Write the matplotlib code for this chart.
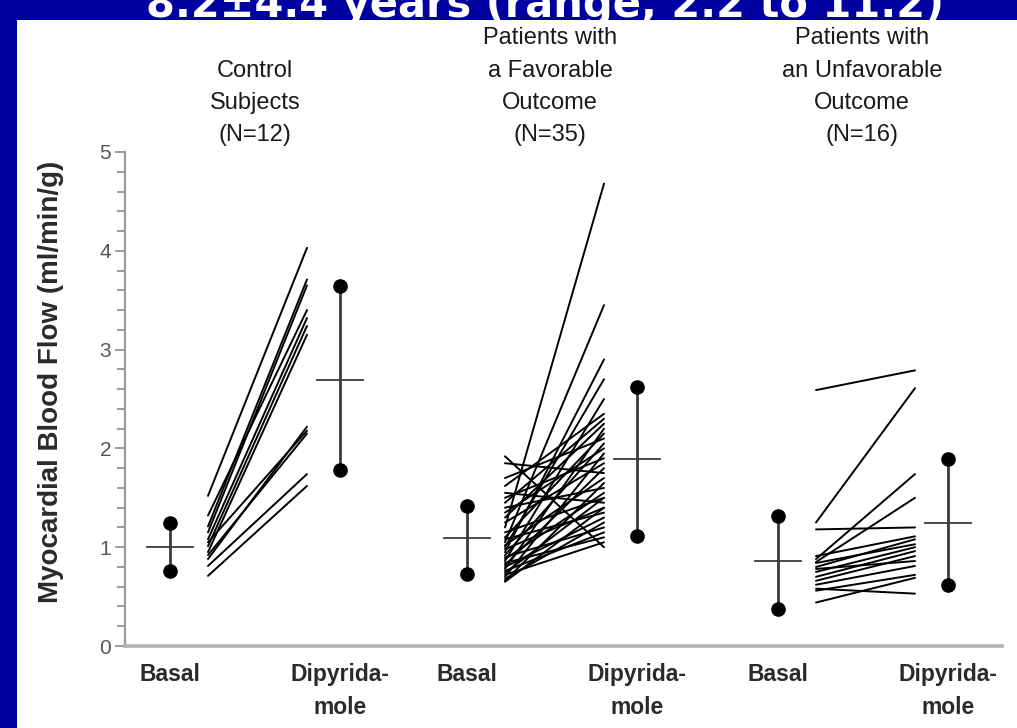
import matplotlib
matplotlib.use("Agg")
import matplotlib.pyplot as plt
from matplotlib.patches import Rectangle
import numpy as np

plt.rcParams['font.family'] = ['Liberation Sans', 'DejaVu Sans']

# ---------------- data ----------------
groups = ["Control\nSubjects\n(N=12)",
          "Patients with\na Favorable\nOutcome\n(N=35)",
          "Patients with\nan Unfavorable\nOutcome\n(N=16)"]
conditions = ["Basal", "Dipyrida-\nmole"]

control_basal = [1.52, 1.21, 1.15, 1.32, 1.08, 1.01, 0.95, 0.88, 1.05, 0.92, 0.81, 0.71]
control_dip   = [4.03, 3.71, 3.65, 3.40, 3.32, 3.24, 3.15, 2.22, 2.18, 2.15, 1.74, 1.62]

fav_basal = [1.20, 1.05, 0.95, 1.00, 0.86, 1.62, 1.45, 1.30, 0.78, 1.10, 1.70, 0.92,
             1.35, 0.70, 1.50, 1.25, 0.82, 1.85, 1.02, 0.66, 1.40, 0.88, 1.15, 0.74,
             1.55, 0.98, 0.65, 1.08, 0.80, 0.68, 0.90, 0.76, 0.84, 0.72, 1.92]
fav_dip   = [4.68, 3.45, 2.90, 2.70, 2.50, 2.35, 2.30, 2.25, 2.20, 2.15, 2.10, 2.05,
             2.00, 1.95, 1.90, 1.85, 1.80, 1.75, 1.70, 1.65, 1.60, 1.55, 1.50, 1.50,
             1.45, 1.40, 1.40, 1.35, 1.30, 1.25, 1.20, 1.15, 1.10, 1.05, 1.00]

unfav_basal = [2.59, 1.25, 1.18, 0.88, 0.85, 0.91, 0.80, 0.84, 0.75, 0.70, 0.66, 0.78,
               0.62, 0.56, 0.58, 0.44]
unfav_dip   = [2.79, 2.61, 1.20, 1.74, 1.50, 1.11, 1.08, 1.03, 1.00, 0.96, 0.91, 0.86,
               0.81, 0.72, 0.53, 0.69]

# summary: mean, lower, upper (basal then dipyridamole) per group
basal_mean  = [1.00, 1.09, 0.86]
basal_low   = [0.76, 0.73, 0.37]
basal_high  = [1.24, 1.42, 1.32]
dip_mean    = [2.69, 1.89, 1.24]
dip_low     = [1.78, 1.11, 0.62]
dip_high    = [3.64, 2.62, 1.89]

pairs = [(control_basal, control_dip), (fav_basal, fav_dip), (unfav_basal, unfav_dip)]

# ---------------- layout ----------------
W, H = 1017, 728
fig = plt.figure(figsize=(W / 100, H / 100), dpi=100)
fig.patch.set_facecolor('#0000A0')

# cut-off heading on the blue band
fig.text(545 / W, 1 - 17 / H, "8.2±4.4 years (range, 2.2 to 11.2)", color='white',
         fontsize=30, fontweight='bold', ha='center', va='baseline',
         family=['DejaVu Sans'], zorder=-3)
fig.patches.append(Rectangle((17 / W, 0), 1 - 17 / W, 1 - 20 / H, transform=fig.transFigure,
                             facecolor='white', edgecolor='none', zorder=-1))

ax_left, ax_right = 125, 1002
ax_top, ax_bottom = 152, 646
ax = fig.add_axes([ax_left / W, 1 - ax_bottom / H, (ax_right - ax_left) / W,
                   (ax_bottom - ax_top) / H])
ax.set_zorder(1)
ax.patch.set_alpha(0)
ax.set_xlim(ax_left / 100, ax_right / 100)
ax.set_ylim(0, 5)

base = [1.70, 4.67, 7.78]
off_start, off_end, off_dip, half = 0.38, 1.37, 1.70, 0.23

for g, (b, d) in enumerate(pairs):
    x0 = base[g]
    for yb, yd in zip(b, d):
        ax.plot([x0 + off_start, x0 + off_end], [yb, yd], color='black', lw=1.4,
                solid_capstyle='round', zorder=3)
    for xc, m, lo, hi in [(x0, basal_mean[g], basal_low[g], basal_high[g]),
                          (x0 + off_dip, dip_mean[g], dip_low[g], dip_high[g])]:
        ax.plot([xc, xc], [lo, hi], color='#3a3a3a', lw=2.0, zorder=2)
        ax.plot([xc - half, xc + half], [m, m], color='#3a3a3a', lw=1.3, zorder=2)
        ax.plot([xc, xc], [lo, hi], 'o', color='black', ms=9.5, zorder=4)

# group titles
title_x = [2.55, 5.50, 8.62]
for g, t in enumerate(groups):
    fig.text(title_x[g] * 100 / W, 1 - 146 / H, t, ha='center', va='bottom',
             fontsize=17, color='#1a1a1a', linespacing=1.6)

# axes styling
for s in ['top', 'right']:
    ax.spines[s].set_visible(False)
ax.spines['left'].set_color('#9a9a9a')
ax.spines['left'].set_linewidth(1.6)
ax.spines['bottom'].set_color('#b0b0b0')
ax.spines['bottom'].set_linewidth(2.6)
ax.set_yticks(range(0, 6))
ax.set_yticks(np.arange(0, 5.01, 0.2), minor=True)
ax.tick_params(axis='y', which='major', length=7, width=1.4, color='#9a9a9a',
               labelsize=15, labelcolor='#555555', pad=3)
ax.tick_params(axis='y', which='minor', length=6, width=1.4, color='#9a9a9a')

xt = []
xl = []
for g in range(3):
    xt += [base[g], base[g] + off_dip]
    xl += conditions
ax.set_xticks(xt)
ax.set_xticklabels(xl, fontsize=16.5, fontweight='bold', color='#2a2a2a',
                   va='top', linespacing=1.55)
ax.tick_params(axis='x', length=0, pad=12)

ax.set_ylabel("Myocardial Blood Flow (ml/min/g)", fontsize=20, fontweight='bold',
              color='#2a2a2a')
ax.yaxis.set_label_coords(-0.0696, 0.534)

fig.savefig("out.png", dpi=100, facecolor=fig.get_facecolor())
